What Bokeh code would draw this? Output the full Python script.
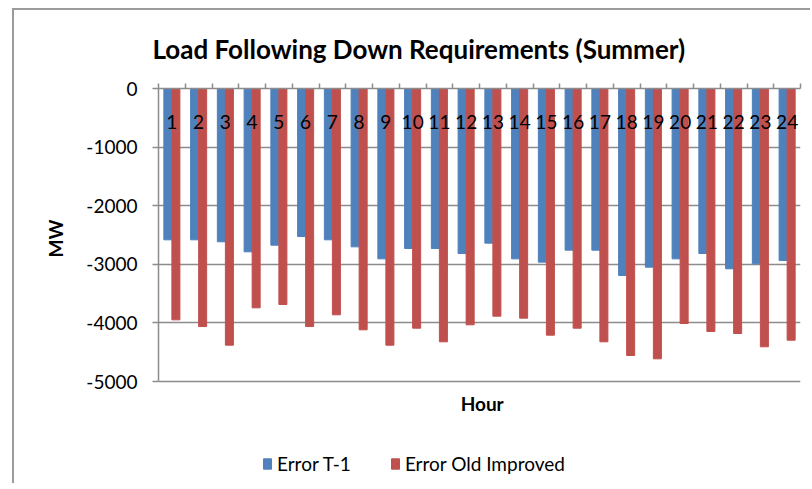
from bokeh.plotting import figure
from bokeh.models import Range1d, LinearAxis, FixedTicker, Legend, LegendItem, ColumnDataSource, Label, Title
from bokeh.transform import dodge
from bokeh.core.properties import value
from bokeh.embed import file_html
from bokeh.resources import INLINE

hours = list(range(1, 25))
hour_labels = [str(h) for h in hours]
error_t1 = [-2582, -2582, -2616, -2787, -2674, -2526, -2582, -2702, -2907, -2730, -2730, -2816,
            -2639, -2907, -2963, -2759, -2759, -3191, -3049, -2907, -2816, -3077, -2992, -2935]
error_old = [-3948, -4062, -4380, -3743, -3686, -4062, -3862, -4118, -4380, -4090, -4323, -4033,
             -3885, -3919, -4209, -4090, -4323, -4556, -4613, -4010, -4147, -4181, -4408, -4295]
y_ticks = [0, -1000, -2000, -3000, -4000, -5000]
y_tick_labels = ["0", "-1000", "-2000", "-3000", "-4000", "-5000"]
series_names = ["Error T-1", "Error Old Improved"]
title_text = "Load Following Down Requirements (Summer)"
x_title = "Hour"
y_title = "MW"

BLUE = "#4F81BD"
RED = "#C0504D"
GRID = "#8c8c8c"
BORDER = "#9b9b9b"
FONT = "Lato"

# layout geometry (pixels)
FIG_W, FIG_H = 798, 475
TOP, LEFT, RIGHT, BOTTOM = 78, 144, 12, 0
AXIS_PX = 293  # pixel height of the -5000..0 span
frame_h = FIG_H - TOP - BOTTOM
y_min_axis = min(y_ticks)
y_start = y_min_axis * frame_h / AXIS_PX

src = ColumnDataSource(dict(hour=hours, label=hour_labels, t1=error_t1, old=error_old,
                            zero=[0] * len(hours), label_y=[-580] * len(hours)))

p = figure(width=FIG_W, height=FIG_H, x_range=Range1d(0.5, 24.5), y_range=Range1d(y_start, 0),
           output_backend="svg", toolbar_location=None, x_axis_location=None, y_axis_location=None,
           min_border_left=LEFT, min_border_right=RIGHT, min_border_top=TOP, min_border_bottom=BOTTOM)
p.margin = (8, 0, 0, 12)
p.styles = {"border-left": f"2px solid {BORDER}", "border-top": f"2px solid {BORDER}"}
p.outline_line_color = None
p.background_fill_color = "white"
p.border_fill_color = "white"

p.title.text = title_text
p.title.align = "left"
p.title.offset = -6
p.title.standoff = 38
p.title.text_font = FONT
p.title.text_font_size = "26px"
p.title.text_font_style = "bold"
p.title.text_color = "black"

# left axis
yax = LinearAxis(ticker=FixedTicker(ticks=y_ticks), bounds=(y_min_axis, 0))
yax.major_label_overrides = {t: s for t, s in zip(y_ticks, y_tick_labels)}
yax.axis_line_color = GRID
yax.axis_line_width = 1.5
yax.major_tick_line_color = GRID
yax.major_tick_line_width = 1.5
yax.major_tick_out = 6
yax.major_tick_in = 0
yax.minor_tick_line_color = None
yax.major_label_text_font = FONT
yax.major_label_text_font_size = "19px"
yax.major_label_text_color = "black"
yax.major_label_standoff = 15
p.add_layout(yax, "left")

# y title, placed along the -5000..0 span
y_title_obj = Title(text=y_title, align="right", offset=131, standoff=33,
                    text_font=FONT, text_font_size="19px", text_font_style="bold", text_color="black")
p.add_layout(y_title_obj, "left")

# top category axis (at zero)
boundaries = [h - 0.5 for h in hours] + [hours[-1] + 0.5]
xax = LinearAxis(ticker=FixedTicker(ticks=boundaries))
xax.major_label_overrides = {b: "" for b in boundaries}
xax.axis_line_color = GRID
xax.axis_line_width = 1.5
xax.major_tick_line_color = GRID
xax.major_tick_line_width = 1.5
xax.major_tick_out = 5
xax.major_tick_in = 0
xax.minor_tick_line_color = None
xax.major_label_text_color = None
xax.major_label_text_font_size = "1px"
xax.major_label_standoff = 0
p.add_layout(xax, "above")

p.xgrid.visible = False
p.ygrid.ticker = FixedTicker(ticks=y_ticks)
p.ygrid.grid_line_color = GRID
p.ygrid.grid_line_width = 1.5

r1 = p.vbar(x=dodge("hour", -0.15, range=p.x_range), width=0.3, top="zero", bottom="t1",
            source=src, fill_color=BLUE, line_color=BLUE)
r2 = p.vbar(x=dodge("hour", 0.15, range=p.x_range), width=0.3, top="zero", bottom="old",
            source=src, fill_color=RED, line_color=RED)

p.text(x="hour", y="label_y", text="label", source=src, text_font=value(FONT),
       text_font_size=value("19px"), text_align="center", text_baseline="middle", text_color="black")

# x title below the -5000 line
p.add_layout(Label(x=(hours[0] + hours[-1]) / 2 + 0.1, y=-5375, text=x_title,
                   text_font=FONT, text_font_size="19px", text_font_style="bold", text_color="black",
                   text_align="center", text_baseline="middle"))

legend = Legend(items=[LegendItem(label=series_names[0], renderers=[r1]),
                       LegendItem(label=series_names[1], renderers=[r2])],
                location=(104, 10), orientation="horizontal")
legend.padding = 0
legend.margin = 0
legend.spacing = 39
legend.glyph_width = 10
legend.glyph_height = 13
legend.label_standoff = 5
legend.label_text_font = FONT
legend.label_text_font_size = "19px"
legend.label_text_color = "black"
legend.border_line_color = None
legend.background_fill_alpha = 0
p.add_layout(legend, "center")

open("out.html", "w").write(file_html(p, INLINE))
